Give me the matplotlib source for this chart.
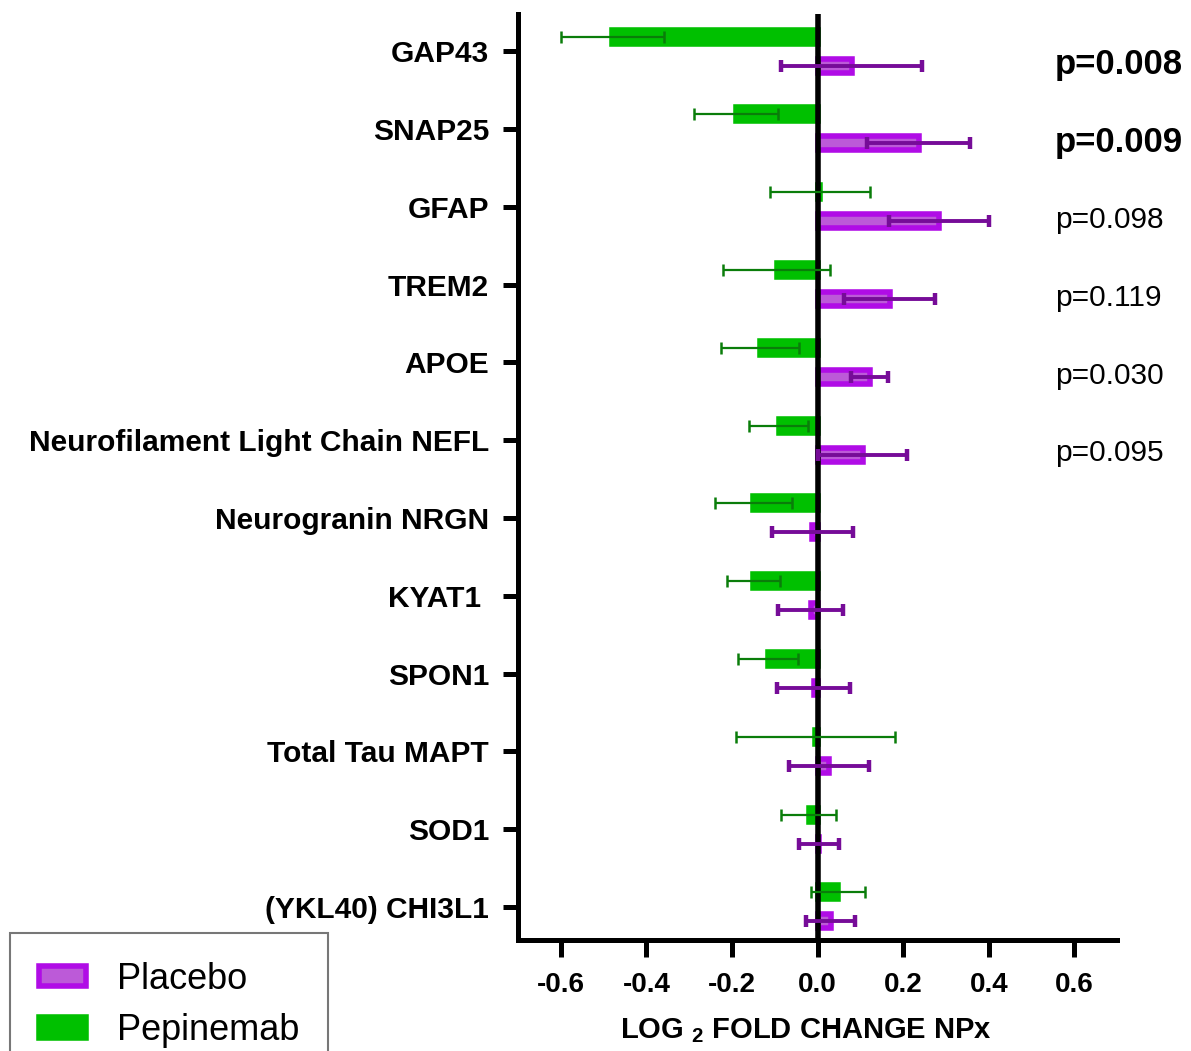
import numpy as np
import matplotlib
matplotlib.use('Agg')
import matplotlib.pyplot as plt

plt.rcParams['font.family'] = ['Liberation Sans', 'DejaVu Sans']
plt.rcParams['mathtext.fontset'] = 'custom'
plt.rcParams['mathtext.rm'] = 'Liberation Sans'
plt.rcParams['mathtext.bf'] = 'Liberation Sans:bold'

markers = ['GAP43', 'SNAP25', 'GFAP', 'TREM2', 'APOE',
           'Neurofilament Light Chain NEFL', 'Neurogranin NRGN', 'KYAT1 ',
           'SPON1', 'Total Tau MAPT', 'SOD1', '(YKL40) CHI3L1']
pepinemab = [-0.480, -0.190, 0.005, -0.096, -0.134, -0.091,
             -0.150, -0.150, -0.117, -0.005, -0.021, 0.047]
pepinemab_err = [0.120, 0.098, 0.117, 0.125, 0.091, 0.069,
                 0.090, 0.062, 0.070, 0.185, 0.064, 0.063]
placebo = [0.080, 0.236, 0.283, 0.168, 0.122, 0.105,
           -0.012, -0.016, -0.009, 0.026, 0.003, 0.031]
placebo_err = [0.165, 0.120, 0.117, 0.107, 0.043, 0.105,
               0.095, 0.076, 0.085, 0.093, 0.047, 0.057]
pvalues = ['p=0.008', 'p=0.009', 'p=0.098', 'p=0.119', 'p=0.030', 'p=0.095']
p_bold = [True, True, False, False, False, False]
xticks = [-0.6, -0.4, -0.2, 0.0, 0.2, 0.4, 0.6]

green = '#00C000'
purple_edge = '#B00CE6'
purple_face = '#BC5AD8'

fig = plt.figure(figsize=(11.91, 10.51), dpi=100)
ax = fig.add_axes([0.435, 0.1056, 0.503, 0.881])

y = np.arange(len(markers))
off = 0.187
h = 0.18

pe = ax.barh(y - off, pepinemab, height=h, color=green, edgecolor=green, linewidth=4, zorder=2)
pl = ax.barh(y + off, placebo, height=h, color=purple_face, edgecolor=purple_edge, linewidth=4, zorder=2)
ax.axvline(0, color='black', lw=4, zorder=3)
ax.errorbar(pepinemab, y - off, xerr=pepinemab_err, fmt='none', ecolor='#0A7D0A',
            elinewidth=1.6, capsize=4, capthick=1.8, zorder=4)
ax.errorbar(placebo, y + off, xerr=placebo_err, fmt='none', ecolor='#760C98',
            elinewidth=2.8, capsize=4, capthick=3.2, zorder=4)

# p-values next to the placebo bars
for i, (txt, b) in enumerate(zip(pvalues, p_bold)):
    ax.text(0.554, i + 0.17, txt, fontsize=25 if b else 21.5,
            fontweight='bold' if b else 'normal', va='center', ha='left')

ax.set_xlim(-0.7, 0.7)
ax.set_ylim(11.425, -0.476)
ax.set_yticks(y)
ax.set_yticklabels(markers, fontsize=21.5, fontweight='bold')
ax.set_xticks(xticks)
ax.set_xticklabels(['%.1f' % v for v in xticks], fontsize=20, fontweight='bold')
ax.set_xlabel(r'LOG $_\mathbf{2}$ FOLD CHANGE NPx', fontsize=21, fontweight='bold', labelpad=13)
ax.xaxis.label.set_x(0.48)

for s in ['top', 'right']:
    ax.spines[s].set_visible(False)
for s in ['left', 'bottom']:
    ax.spines[s].set_linewidth(3.6)
ax.tick_params(axis='y', length=10.8, width=3.6, pad=10)
ax.tick_params(axis='x', length=12, width=3.6, pad=11)

leg = fig.legend(handles=[pl, pe], labels=['Placebo', 'Pepinemab'], loc='upper left',
                 bbox_to_anchor=(10 / 1191, 1 - 933 / 1051), bbox_transform=fig.transFigure,
                 fontsize=26, frameon=True, fancybox=False, edgecolor='#555555',
                 borderpad=0.8, borderaxespad=0, labelspacing=0.45, handlelength=1.3,
                 handleheight=0.5, handletextpad=0.85)
leg.get_frame().set_linewidth(1.5)

plt.savefig('out.png', dpi=100)
